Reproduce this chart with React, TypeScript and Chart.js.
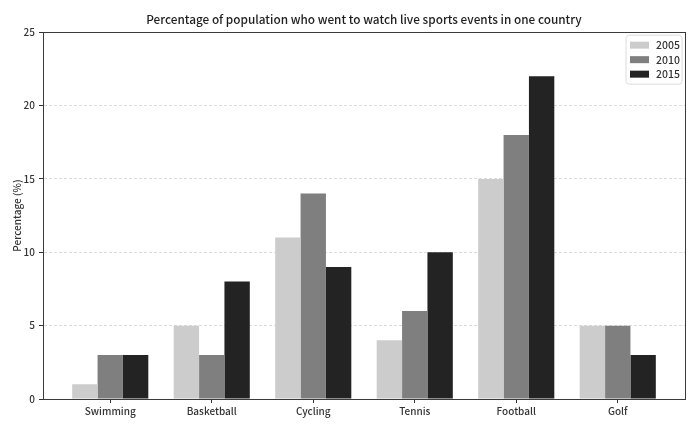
import React, { useEffect, useRef } from "react";
import { Chart, registerables } from "chart.js";

Chart.register(...registerables);

const categories = ["Swimming", "Basketball", "Cycling", "Tennis", "Football", "Golf"];
const years = ["2005", "2010", "2015"];
const values2005 = [1, 5, 11, 4, 15, 5];
const values2010 = [3, 3, 14, 6, 18, 5];
const values2015 = [3, 8, 9, 10, 22, 3];
const colors = ["#cccccc", "#7f7f7f", "#232323"];
const yTicks = [0, 5, 10, 15, 20, 25];

const FONT = "'Noto Sans CJK SC', 'Noto Sans', sans-serif";

const boxPlugin = {
  id: "boxAndLegend",
  beforeDraw(chart: any) {
    const tb = chart.titleBlock;
    if (tb) {
      tb.left = chart.chartArea.left;
      tb.right = chart.chartArea.right;
      tb.width = tb.right - tb.left;
    }
  },
  afterDraw(chart: any) {
    const { ctx, chartArea } = chart;
    ctx.save();
    ctx.strokeStyle = "#3a3a3a";
    ctx.lineWidth = 1;
    ctx.strokeRect(
      Math.round(chartArea.left) + 0.5,
      Math.round(chartArea.top) + 0.5,
      Math.round(chartArea.right - chartArea.left),
      Math.round(chartArea.bottom - chartArea.top)
    );
    const bw = 56;
    const bh = 49;
    const bx = chartArea.right - bw - 3;
    const by = chartArea.top + 3;
    ctx.beginPath();
    const r = 3;
    ctx.moveTo(bx + r, by);
    ctx.lineTo(bx + bw - r, by);
    ctx.quadraticCurveTo(bx + bw, by, bx + bw, by + r);
    ctx.lineTo(bx + bw, by + bh - r);
    ctx.quadraticCurveTo(bx + bw, by + bh, bx + bw - r, by + bh);
    ctx.lineTo(bx + r, by + bh);
    ctx.quadraticCurveTo(bx, by + bh, bx, by + bh - r);
    ctx.lineTo(bx, by + r);
    ctx.quadraticCurveTo(bx, by, bx + r, by);
    ctx.closePath();
    ctx.fillStyle = "rgba(255,255,255,0.85)";
    ctx.fill();
    ctx.strokeStyle = "#dcdcdc";
    ctx.stroke();
    ctx.font = `500 10.5px ${FONT}`;
    ctx.textBaseline = "middle";
    chart.data.datasets.forEach((ds: any, i: number) => {
      const cy = by + 10 + i * 14.5;
      ctx.fillStyle = ds.backgroundColor;
      ctx.fillRect(bx + 4, cy - 3.5, 19, 7);
      ctx.fillStyle = "#333";
      ctx.fillText(ds.label, bx + 30, cy);
    });
    ctx.restore();
  },
};

export default function App() {
  const ref = useRef<HTMLCanvasElement>(null);
  useEffect(() => {
    document.body.style.margin = "0";
    const series = [values2005, values2010, values2015];
    const chart = new Chart(ref.current!, {
      type: "bar",
      data: {
        datasets: years.map((y, i) => ({
          label: y,
          data: series[i].map((v, j) => ({ x: j, y: v })),
          backgroundColor: colors[i],
          borderWidth: 0,
          barPercentage: 1,
          categoryPercentage: 0.75,
        })),
      },
      options: {
        animation: false,
        responsive: false,
        layout: { padding: { left: 11, right: 13, top: 0, bottom: 14 } },
        plugins: {
          legend: { display: false },
          tooltip: { enabled: false },
          title: {
            display: true,
            text: "Percentage of population who went to watch live sports events in one country",
            font: { family: FONT, size: 11.8, weight: "500" },
            color: "#1e1e1e",
            padding: { top: 12, bottom: 6 },
          },
        },
        scales: {
          x: {
            type: "linear",
            min: -0.6625,
            max: 5.6625,
            offset: false,
            afterBuildTicks: (scale: any) => {
              scale.ticks = categories.map((_, i) => ({ value: i }));
            },
            ticks: {
              callback: (v: any) => categories[v] ?? "",
              font: { family: FONT, size: 10, weight: "500" },
              color: "#333",
              padding: 2,
              maxRotation: 0,
              autoSkip: false,
            },
            grid: {
              offset: false,
              drawOnChartArea: false,
              drawTicks: true,
              tickLength: 4,
              tickColor: "#333",
              color: "#333",
            },
            border: { display: true, color: "#3a3a3a" },
          },
          y: {
            min: 0,
            max: 25,
            afterBuildTicks: (scale: any) => {
              scale.ticks = yTicks.map((v) => ({ value: v }));
            },
            afterFit: (scale: any) => {
              scale.width = 32;
            },
            title: {
              display: true,
              text: "Percentage (%)",
              font: { family: FONT, size: 10, weight: "500" },
              color: "#333",
              padding: { top: 0, bottom: 2 },
            },
            ticks: {
              font: { family: FONT, size: 10, weight: "500" },
              color: "#333",
              padding: 4,
            },
            grid: {
              color: "#dcdcdc",
              tickColor: "#333",
              tickLength: 4,
            },
            border: { display: true, color: "#3a3a3a", dash: [3, 2] },
          },
        },
      },
      plugins: [boxPlugin],
    } as any);
    return () => chart.destroy();
  }, []);
  return <canvas ref={ref} width={698} height={433} style={{ display: "block" }} />;
}
